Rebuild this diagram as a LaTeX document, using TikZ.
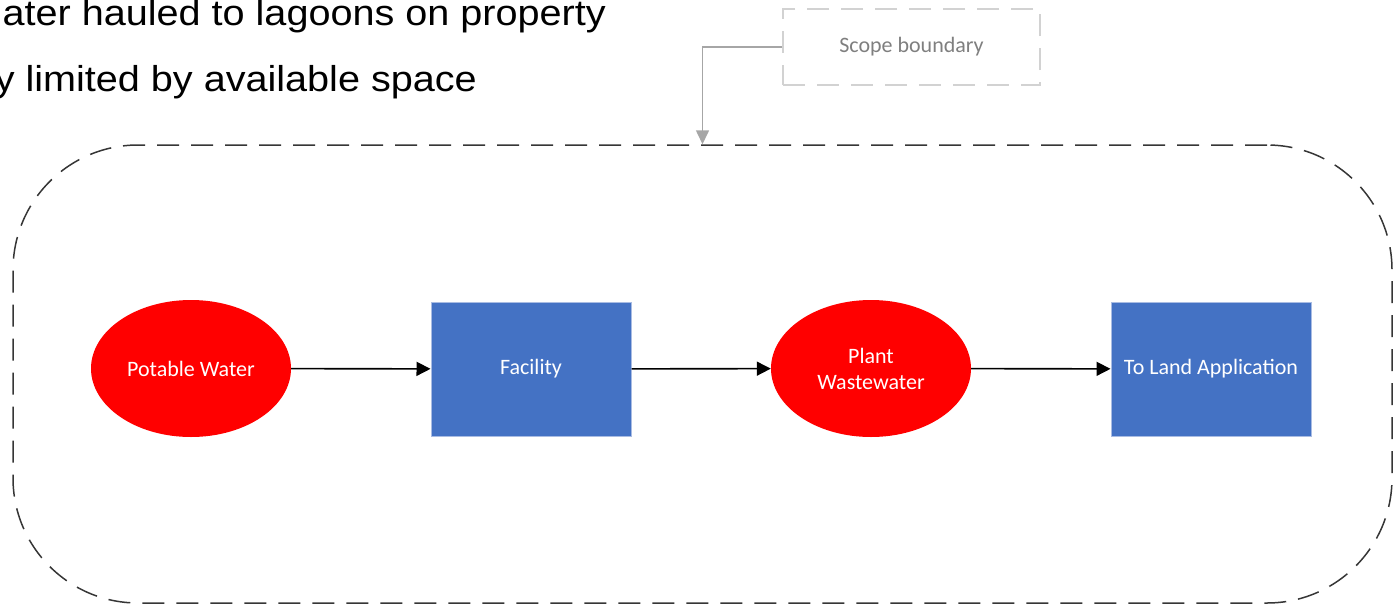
\documentclass[tikz,border=0pt]{standalone}
\usepackage{fontspec}
\setmainfont{Liberation Sans}
\newfontfamily\calibri{Carlito}
\newfontfamily\headfont[FakeStretch=1.1]{Liberation Sans}
\usetikzlibrary{shapes.geometric,arrows.meta}

\definecolor{boxblue}{HTML}{4472C4}
\definecolor{boxedge}{HTML}{A9BCE3}
\definecolor{ovalred}{HTML}{FF0000}
\definecolor{framegray}{HTML}{363636}
\definecolor{notegray}{HTML}{D2D2D2}
\definecolor{notetext}{HTML}{7F7F7F}
\definecolor{pointergray}{HTML}{A6A6A6}

\begin{document}
\begin{tikzpicture}[x=1pt,y=-1pt,
  labelfont/.style={font=\calibri\fontsize{22}{26}\selectfont},
  oval/.style={ellipse, fill=ovalred, minimum width=200pt, minimum height=137pt,
    inner sep=0pt, text=white, align=center, labelfont},
  block/.style={rectangle, fill=boxblue, draw=boxedge, line width=1pt,
    minimum width=200pt, minimum height=134pt, inner sep=0pt, text=white,
    align=center, labelfont},
  flow/.style={-{Triangle[length=14pt,width=14pt]}, line width=1.6pt, black},
  boundary/.style={draw=framegray, line width=1.5pt, dash pattern=on 22pt off 12pt,
    rounded corners=125pt, minimum width=1379pt, minimum height=458pt, inner sep=0pt},
  note/.style={draw=notegray, line width=1.5pt, dash pattern=on 22pt off 12pt,
    minimum width=257pt, minimum height=76pt, inner sep=0pt, text=notetext, labelfont},
  pointer/.style={-{Triangle[length=14pt,width=13pt]}, line width=1.6pt, draw=pointergray},
  heading/.style={anchor=base east, inner sep=0pt, font=\headfont\fontsize{36}{44}\selectfont}
]
\path[use as bounding box, clip] (0,0) rectangle (1395,605);

% bullet text lines
\node[heading] (lineA) at (606,25) {ater hauled to lagoons on property};
\node[heading] (lineB) at (477,91) {y limited by available space};

% dashed scope boundary and its callout
\node[boundary] (scope) at (702.5,374) {};
\node[note] (callout) at (911.5,47) {Scope boundary};
\draw[pointer] (callout.west) -| (scope.north);

% process flow
\node[oval]  (potable) at (191,368.5) {Potable Water};
\node[block] (facility) at (531,369) {Facility};
\node[oval]  (waste) at (871,368.5) {Plant\\Wastewater};
\node[block] (land) at (1211,369) {To Land Application};

\draw[flow] (potable) -- (facility);
\draw[flow] (facility) -- (waste);
\draw[flow] (waste) -- (land);
\end{tikzpicture}
\end{document}
